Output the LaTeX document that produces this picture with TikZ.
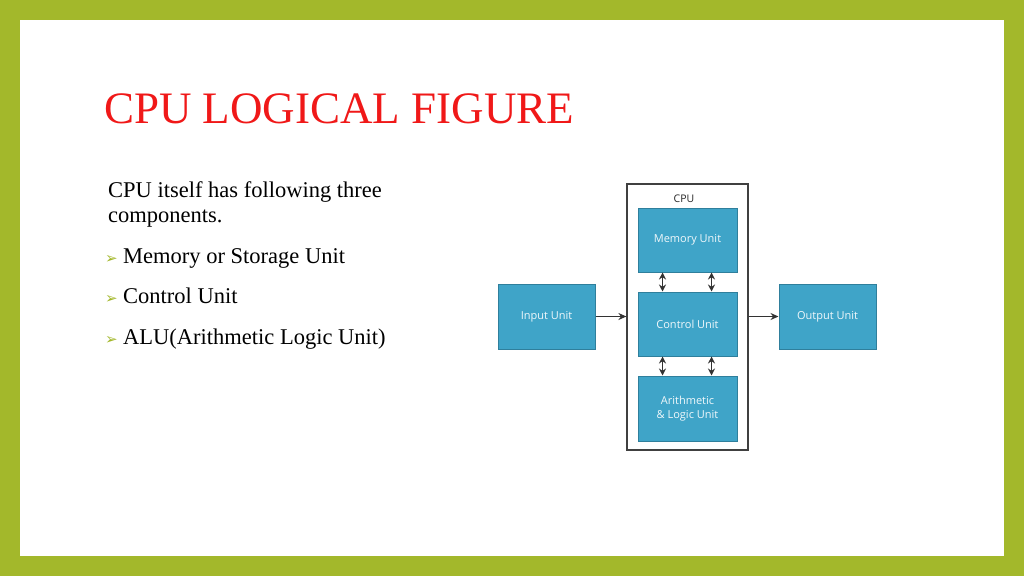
\documentclass[tikz,border=0pt]{standalone}
\usepackage{fontspec}
\setmainfont{Liberation Serif}
\newfontfamily\boxfont{Open Sans}
\newfontfamily\symfont{DejaVu Sans}
\usetikzlibrary{arrows.meta}
\definecolor{frameg}{HTML}{A3B82B}
\definecolor{boxb}{HTML}{3FA4C8}
\definecolor{boxe}{HTML}{2F7F9C}
\definecolor{titler}{HTML}{F01818}
\tikzset{
  unit/.style={draw=boxe,fill=boxb,line width=1pt,text=white!92!boxb,font=\boxfont\fontsize{11}{14}\selectfont,align=center,inner sep=0pt},
  conn/.style={line width=1.6pt,draw=black!80,-{Stealth[length=8pt,width=7pt]}},
  dconn/.style={line width=1.6pt,draw=black!80,{Stealth[length=7pt,width=7pt]}-{Stealth[length=7pt,width=7pt]}},
  bodytxt/.style={anchor=base west,inner sep=0pt,font=\fontsize{22.5}{26}\selectfont},
  bul/.style={anchor=base west,inner sep=0pt,text=frameg,font=\symfont\fontsize{15}{16}\selectfont}
}
\begin{document}
\begin{tikzpicture}[x=1pt,y=-1pt]
\useasboundingbox (0,0) rectangle (1024,576);
\fill[frameg] (0,0) rectangle (1024,576);
\fill[white] (20,20) rectangle (1004,556);
\node[anchor=base west,inner sep=0pt,text=titler,font=\fontsize{45}{50}\selectfont] (title) at (104,123) {CPU LOGICAL FIGURE};
\node[bodytxt] (t1) at (108,197) {CPU itself has following three};
\node[bodytxt] (t2) at (108,222) {components.};
\node[bul] (b1) at (105,263) {➢};
\node[bodytxt] (l1) at (123,263) {Memory or Storage Unit};
\node[bul] (b2) at (105,303) {➢};
\node[bodytxt] (l2) at (123,303) {Control Unit};
\node[bul] (b3) at (105,344) {➢};
\node[bodytxt] (l3) at (123,344) {ALU(Arithmetic Logic Unit)};
% CPU frame
\node[draw=black!75,line width=1.2pt,minimum width=121pt,minimum height=266pt,inner sep=0pt] (cpu) at (687.5,317) {};
\node[font=\boxfont\fontsize{10.5}{12}\selectfont,text=black!85] (cpul) at (684,199) {CPU};
\node[unit,minimum width=99pt,minimum height=64pt] (mem) at (687.5,240) {Memory Unit};
\node[unit,minimum width=99pt,minimum height=64pt] (ctl) at (687.5,324) {Control Unit};
\node[unit,minimum width=99pt,minimum height=65pt] (alu) at (687.5,408.5) {Arithmetic\\\& Logic Unit};
\node[unit,minimum width=97pt,minimum height=65pt] (inp) at (546.5,316.5) {Input Unit};
\node[unit,minimum width=97pt,minimum height=65pt] (out) at (827.5,316.5) {Output Unit};
\draw[conn] (inp.east) -- (cpu.west |- inp.east);
\draw[conn] (cpu.east |- out.west) -- (out.west);
\draw[dconn] ([xshift=-25pt]mem.south) -- ([xshift=-25pt]ctl.north);
\draw[dconn] ([xshift=24pt]mem.south) -- ([xshift=24pt]ctl.north);
\draw[dconn] ([xshift=-25pt]ctl.south) -- ([xshift=-25pt]alu.north);
\draw[dconn] ([xshift=24pt]ctl.south) -- ([xshift=24pt]alu.north);
\end{tikzpicture}
\end{document}
